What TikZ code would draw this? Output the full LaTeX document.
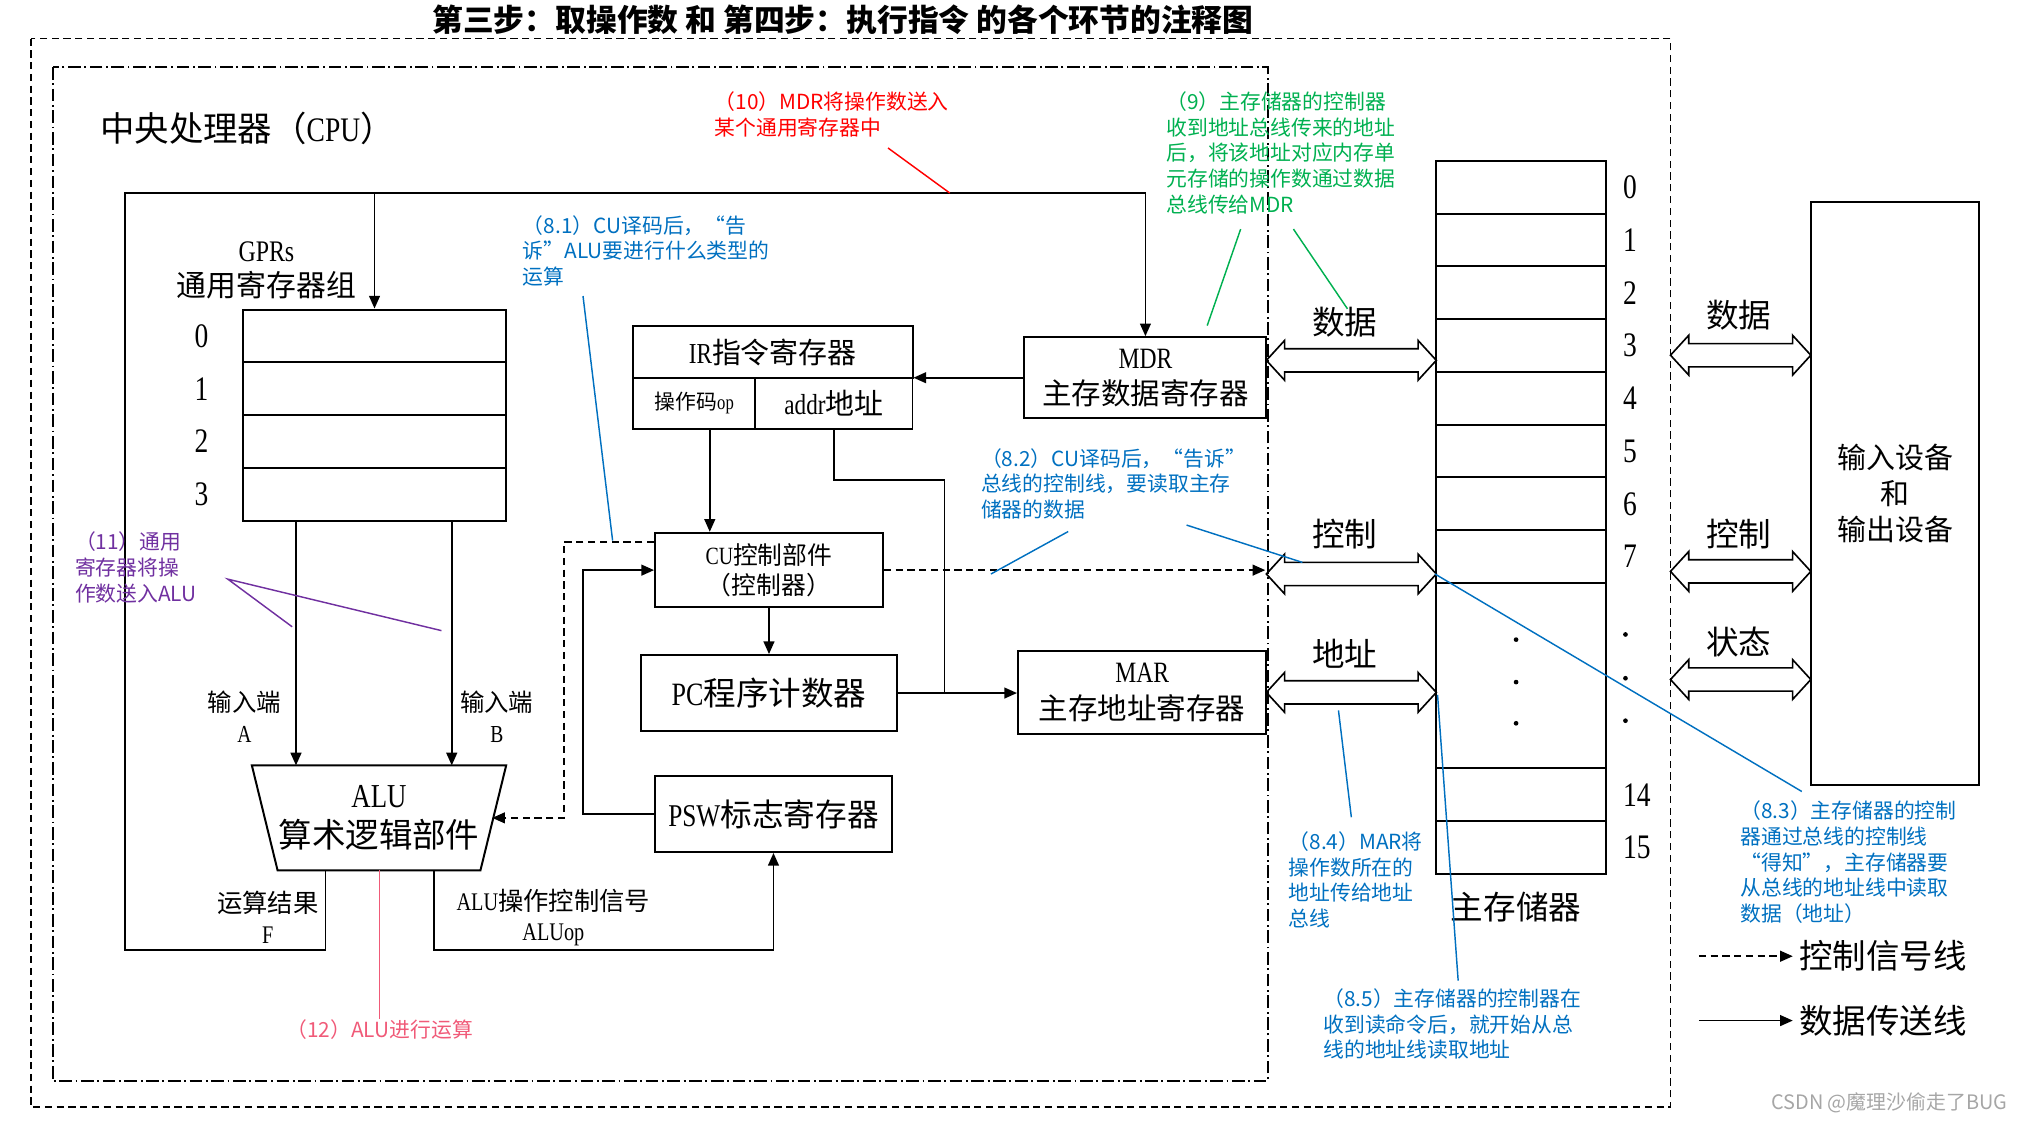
\documentclass[tikz,border=0pt]{standalone}
\usepackage{fontspec}
\setmainfont{Noto Sans CJK SC}
\newfontfamily\lat[FakeStretch=0.8]{Liberation Serif}
\usetikzlibrary{arrows.meta,positioning,shapes.arrows,calc}

\definecolor{noteblue}{RGB}{0,112,192}
\definecolor{notegreen}{RGB}{0,176,80}
\definecolor{notepurple}{RGB}{112,48,160}
\definecolor{notepink}{RGB}{240,90,120}

\begin{document}
\begin{tikzpicture}[x=0.025cm, y=-0.025cm,
    box/.style={draw, line width=1.1pt, inner sep=0pt, align=center},
    cell/.style={box, minimum height=1.025cm},
    num/.style={inner sep=0pt, font=\lat\fontsize{19}{19}\selectfont},
    ln/.style={line width=0.9pt},
    ar/.style={ln, -{Triangle[length=7pt, width=6pt]}},
    dar/.style={ar, dash pattern=on 4pt off 2.5pt},
    bus/.style={double arrow, draw, line width=0.9pt, inner sep=0pt,
      double arrow head extend=0.16cm, double arrow tip angle=95},
    buslbl/.style={font=\fontsize{18}{18}\selectfont},
    note/.style={inner sep=0pt, align=left, anchor=north west,
      font=\fontsize{11.5}{14.2}\selectfont},
    lead/.style={line width=0.8pt},
  ]
  \useasboundingbox (0,0) rectangle (1568,872);

  % title and frames
  \node[font=\bfseries\fontsize{17}{20}\selectfont] (title) at (655,15)
    {第三步：取操作数 和 第四步：执行指令 的各个环节的注释图};
  \draw[ln, dash pattern=on 4pt off 2.5pt] (24,30) rectangle (1298,860);
  \draw[ln, dash pattern=on 7pt off 2pt on 1pt off 2pt] (41,52) rectangle (985,840);
  \node[anchor=west, font=\fontsize{19}{19}\selectfont] (cpu) at (73,100) {中央处理器（{\lat CPU}）};

  % GPRs
  \node[align=center, font=\fontsize{16.5}{19.5}\selectfont] (gprlbl) at (207,210)
    {{\lat GPRs}\\通用寄存器组};
  \foreach \i in {0,...,3}{
    \node[cell, minimum width=5.1cm] (gpr\i) at (291,{261+41*\i}) {};
    \node[num, left=0.65cm of gpr\i] (gn\i) {\i};
  }

  % ALU
  \node[minimum width=4.925cm, minimum height=2.025cm, inner sep=0pt, align=center,
    font=\fontsize{18.5}{22}\selectfont] (alu) at (294.5,635.5) {{\lat ALU}\\算术逻辑部件};
  \draw[line width=1.1pt] (alu.north west) -- (alu.north east)
    -- ([xshift=-0.5cm]alu.south east) -- ([xshift=0.5cm]alu.south west) -- cycle;
  \node[align=center, font=\fontsize{13.5}{17}\selectfont] (ina) at (190,557) {输入端\\{\lat A}};
  \node[align=center, font=\fontsize{13.5}{17}\selectfont] (inb) at (386,557) {输入端\\{\lat B}};
  \draw[ar] ([xshift=-1.525cm]gpr3.south) -- ([xshift=-1.525cm]gpr3.south |- alu.north);
  \draw[ar] ([xshift=1.5cm]gpr3.south) -- ([xshift=1.5cm]gpr3.south |- alu.north);
  \node[align=center, font=\fontsize{14}{17}\selectfont] (res) at (208,713) {运算结果\\{\lat F}};
  \node[align=center, font=\fontsize{14}{17}\selectfont] (aluop) at (430,713)
    {{\lat ALU}操作控制信号\\{\lat ALUop}};

  % IR, MDR, CU, PC, PSW, MAR
  \node[box, minimum width=5.425cm, minimum height=1.025cm, font=\fontsize{16}{16}\selectfont]
    (ir) at (600.5,273.5) {{\lat IR}指令寄存器};
  \node[box, minimum width=2.375cm, minimum height=0.975cm, font=\fontsize{11.5}{11.5}\selectfont]
    (op) at (539.5,313.5) {操作码{\lat op}};
  \node[box, minimum width=3.05cm, minimum height=0.975cm, font=\fontsize{16}{16}\selectfont]
    (addr) at (648,313.5) {{\lat addr}地址};
  \node[box, minimum width=4.7cm, minimum height=1.575cm, font=\fontsize{16.3}{20}\selectfont]
    (mdr) at (890,293.5) {{\lat MDR}\\主存数据寄存器};
  \node[box, minimum width=4.425cm, minimum height=1.45cm, font=\fontsize{13.7}{16.5}\selectfont]
    (cu) at (597.5,443) {{\lat CU}控制部件\\（控制器）};
  \node[box, minimum width=4.975cm, minimum height=1.475cm, font=\fontsize{18}{18}\selectfont]
    (pc) at (597.5,538.5) {{\lat PC}程序计数器};
  \node[box, minimum width=4.6cm, minimum height=1.475cm, font=\fontsize{17.5}{17.5}\selectfont]
    (psw) at (601,632.5) {{\lat PSW}标志寄存器};
  \node[box, minimum width=4.825cm, minimum height=1.6cm, font=\fontsize{16.3}{20}\selectfont]
    (mar) at (887.5,538) {{\lat MAR}\\主存地址寄存器};

  % buses
  \node[bus, minimum height=3.3cm] (dbus) at (1050,280) {\rule{0pt}{0.42cm}};
  \node[bus, minimum height=3.3cm] (cbus) at (1050,446) {\rule{0pt}{0.42cm}};
  \node[bus, minimum height=3.3cm] (abus) at (1050,538) {\rule{0pt}{0.42cm}};
  \node[buslbl] (dlbl) at (1045,250) {数据};
  \node[buslbl] (clbl) at (1045,415) {控制};
  \node[buslbl] (albl) at (1045,508) {地址};
  \node[bus, minimum height=2.725cm] (rdbus) at (1352.5,276) {\rule{0pt}{0.42cm}};
  \node[bus, minimum height=2.725cm] (rcbus) at (1352.5,444) {\rule{0pt}{0.42cm}};
  \node[bus, minimum height=2.725cm] (rsbus) at (1352.5,528) {\rule{0pt}{0.42cm}};
  \node[buslbl] (rdlbl) at (1351,245) {数据};
  \node[buslbl] (rclbl) at (1351,415) {控制};
  \node[buslbl] (rslbl) at (1351,499) {状态};

  % data paths
  \coordinate (tl) at (97,150);
  \draw[ar] ([xshift=-1.0375cm]alu.south) -- ++(0,62) -| (tl) -| (gpr0.north);
  \draw[ar] (tl) -| (mdr.north);
  \draw[ar] ([xshift=1.0625cm]alu.south) -- ++(0,62) -| (psw.south);
  \draw[ar] (mdr.west) -- (mdr.west -| addr.east);
  \draw[ar] ([xshift=0.3cm]op.south) -- ([xshift=0.3cm]op.south |- cu.north);
  \draw[ar] (cu.south) -- (pc.north);
  \coordinate (jn) at ($(pc.east)+(36,0)$);
  \draw[ar] (pc.east) -- (pc.east -| mar.west);
  \draw[ln] (addr.south) -- ++(0,39) -| (jn);
  \draw[ar] (psw.west) -- ++(-55,0) |- (cu.west);
  % control paths
  \draw[dar] ([yshift=-0.2cm]cu.north west) -- ++(-70,0) |- ([xshift=-0.27cm]alu.east);
  \draw[dar] (cu.east) -- (cu.east -| cbus.west);

  % main memory
  \foreach \i in {0,...,7}{
    \node[cell, minimum width=3.3cm] (m\i) at (1182,{145.5+41*\i}) {};
    \node[num, right=0.3cm of m\i] (mn\i) {\i};
  }
  \node[box, minimum width=3.3cm, minimum height=3.6cm] (mdots) at (1182,525) {};
  \node[cell, minimum width=3.3cm] (m14) at (1182,617.5) {};
  \node[cell, minimum width=3.3cm] (m15) at (1182,658.5) {};
  \node[num, right=0.3cm of m14] (mn14) {14};
  \node[num, right=0.3cm of m15] (mn15) {15};
  \foreach \y in {497,530,562} \fill (1178,\y) circle (1.3pt);
  \foreach \y in {493,527,560} \fill (1263,\y) circle (1.3pt);
  \node[font=\fontsize{18}{18}\selectfont] (memlbl) at (1178,705) {主存储器};

  % I/O
  \node[box, minimum width=3.275cm, minimum height=11.325cm, font=\fontsize{16}{20}\selectfont]
    (io) at (1472.5,383.5) {输入设备\\和\\输出设备};

  % legend
  \node[anchor=west, font=\fontsize{18.5}{18.5}\selectfont] (lgc) at (1393,743) {控制信号线};
  \node[anchor=west, font=\fontsize{18.5}{18.5}\selectfont] (lgd) at (1393,793) {数据传送线};
  \coordinate (lgc0) at (1320,743);
  \coordinate (lgd0) at (1320,793);
  \draw[dar] (lgc0) -- (lgc.west);
  \draw[ar] (lgd0) -- (lgd.west);

  % notes
  \node[note, text=red] (n10) at (555,71) {（10）MDR将操作数送入\\某个通用寄存器中};
  \draw[red, lead] (690,115) -- (738,150);
  \node[note, text=notegreen] (n9) at (906,71)
    {（9）主存储器的控制器\\收到地址总线传来的地址\\后，将该地址对应内存单\\元存储的操作数通过数据\\总线传给MDR};
  \draw[notegreen, lead] (964,178) -- (938,253);
  \draw[notegreen, lead] (1005,178) -- (1047,240);
  \node[note, text=noteblue] (n81) at (406,167) {（8.1）CU译码后，“告\\诉”ALU要进行什么类型的\\运算};
  \draw[noteblue, lead] (453,230) -- (476,420);
  \node[note, text=noteblue] (n82) at (762,348) {（8.2）CU译码后，“告诉”\\总线的控制线，要读取主存\\储器的数据};
  \draw[noteblue, lead] (830,413) -- (770,446);
  \draw[noteblue, lead] (922,408) -- (1012,437);
  \node[note, text=noteblue] (n83) at (1352,622)
    {（8.3）主存储器的控制\\器通过总线的控制线\\“得知”，主存储器要\\从总线的地址线中读取\\数据（地址）};
  \draw[noteblue, lead] (1400,615) -- (1115,446);
  \node[note, text=noteblue] (n84) at (1001,646) {（8.4）MAR将\\操作数所在的\\地址传给地址\\总线};
  \draw[noteblue, lead] (1040,552) -- (1050,635);
  \node[note, text=noteblue] (n85) at (1028,768)
    {（8.5）主存储器的控制器在\\收到读命令后，就开始从总\\线的地址线读取地址};
  \draw[noteblue, lead] (1117,540) -- (1133,762);
  \node[note, text=notepurple] (n11) at (58,413) {（11）通用\\寄存器将操\\作数送入ALU};
  \draw[notepurple, lead] (227,487) -- (177,450) -- (343,490);
  \node[text=notepink, inner sep=0pt, font=\fontsize{11.5}{11.5}\selectfont] (n12) at (295,800) {（12）ALU进行运算};
  \draw[notepink, line width=0.6pt] ([xshift=0.0125cm]alu.south) -- ([xshift=0.0125cm]alu.south |- n12.north) ;

  \node[text=gray!70, font=\fontsize{11}{11}\selectfont] (wm) at (1468,857) {CSDN @魔理沙偷走了BUG};
\end{tikzpicture}
\end{document}
